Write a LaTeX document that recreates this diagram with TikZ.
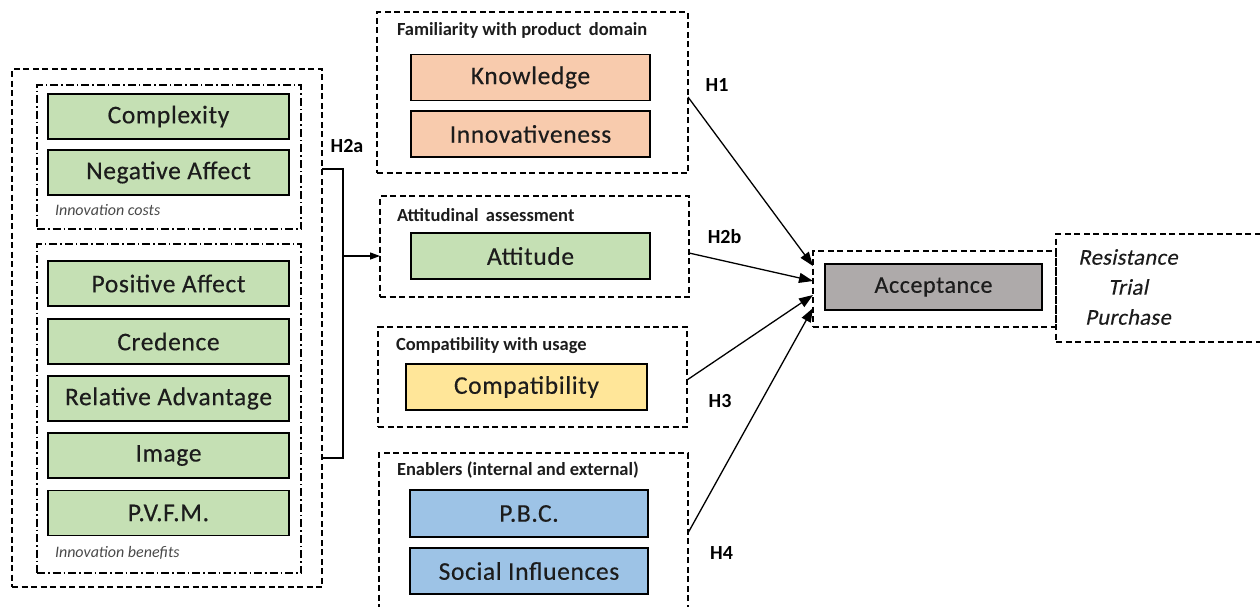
\documentclass[tikz,border=0pt]{standalone}
\usepackage{fontspec}
\setmainfont{Carlito}
\newfontfamily\itemfont{Carlito}[LetterSpace=2.5,FakeBold=0.35]
\newfontfamily\itemitfont{Carlito}[LetterSpace=1.5,FakeBold=0.25,FakeSlant=0.2]
\usetikzlibrary{arrows.meta,calc}

\definecolor{cgreen}{HTML}{C5E0B4}
\definecolor{corange}{HTML}{F8CBAD}
\definecolor{cyellow}{HTML}{FFE699}
\definecolor{cblue}{HTML}{9DC3E6}
\definecolor{cgrey}{HTML}{AEAAAA}
\definecolor{ink}{HTML}{1C1C1C}

\begin{document}
\begin{tikzpicture}[x=1pt,y=-1pt,
  every node/.style={inner sep=0pt, outer sep=0pt},
  item/.style={draw=black, line width=1.4pt, minimum width=241pt, minimum height=45pt,
    font=\itemfont\fontsize{25.5}{30}\selectfont, text=ink},
  grp/.style={draw=black, line width=1.1pt, dash pattern=on 6pt off 3.5pt},
  sub/.style={draw=black, line width=1.1pt, dash pattern=on 8pt off 3pt on 1.5pt off 3pt},
  title/.style={anchor=west, font=\bfseries\fontsize{18.5}{22}\selectfont, text=ink},
  note/.style={anchor=west, font=\itshape\fontsize{16}{19}\selectfont, text=ink!80},
  hyp/.style={font=\bfseries\fontsize{20}{24}\selectfont, text=black},
  link/.style={line width=1.3pt, -{Triangle[length=14pt,width=10pt]}},
  brace/.style={line width=1.3pt}
]
\useasboundingbox (0,0) rectangle (1260,606);
\clip (0,0) rectangle (1260,606);

% ---- left block: innovation costs and benefits
\node[grp, minimum width=310pt, minimum height=518pt] (left) at (167,328) {};
\node[sub, minimum width=264pt, minimum height=144pt] (costs) at (169,157) {};
\node[sub, minimum width=264pt, minimum height=329pt] (benefits) at (169,408.5) {};

\node[item, fill=cgreen] (cx) at (168.5,116.5) {Complexity};
\node[item, fill=cgreen] (na) at (168.5,172.5) {Negative Affect};
\node[note] (nc) at (55,210) {Innovation costs};

\node[item, fill=cgreen] (pa) at (168.5,283.5) {Positive Affect};
\node[item, fill=cgreen] (cr) at (168.5,341.5) {Credence};
\node[item, fill=cgreen] (ra) at (168.5,398.5) {Relative Advantage};
\node[item, fill=cgreen] (im) at (168.5,455.5) {Image};
\node[item, fill=cgreen] (pv) at (168.5,513) {P.V.F.M.};
\node[note] (nb) at (55,553) {Innovation benefits};

% ---- middle column
\node[grp, minimum width=311pt, minimum height=161pt] (fam) at (532.5,92.5) {};
\node[title] (tfam) at (397,30) {Familiarity with product\, domain};
\node[item, fill=corange, minimum width=239pt, minimum height=46pt] (kn) at (530.5,77.5) {Knowledge};
\node[item, fill=corange, minimum width=239pt, minimum height=46pt] (inn) at (530.5,134) {Innovativeness};

\node[grp, minimum width=309pt, minimum height=101pt] (attg) at (534.5,246.5) {};
\node[title] (tatt) at (397,215) {Attitudinal\, assessment};
\node[item, fill=cgreen, minimum width=239pt, minimum height=46pt] (att) at (530.5,256) {Attitude};

\node[grp, minimum width=309pt, minimum height=100pt] (compg) at (532.5,377) {};
\node[title] (tcomp) at (396,346) {Compatibility with usage};
\node[item, fill=cyellow, minimum width=241pt, minimum height=46pt] (comp) at (526.5,387) {Compatibility};

\node[grp, minimum width=309pt, minimum height=162pt] (enab) at (533.5,534) {};
\node[title] (tenab) at (397,470) {Enablers (internal and external)};
\node[item, fill=cblue, minimum width=238pt, minimum height=47pt] (pbc) at (529,513.5) {P.B.C.};
\node[item, fill=cblue, minimum width=238pt, minimum height=46pt] (si) at (529,571) {Social Influences};

% ---- outcome
\node[grp, minimum width=243pt, minimum height=76pt] (accg) at (934.5,289) {};
\node[grp, minimum width=224pt, minimum height=108pt] (resg) at (1168,288) {};
\node[item, fill=cgrey, minimum width=217pt, minimum height=46pt, font=\itemfont\fontsize{24}{28}\selectfont] (acc) at (933.5,287) {Acceptance};
\node[align=center, font=\itemitfont\fontsize{22.5}{30}\selectfont, text=ink] (res) at (1128,287) {Resistance\\Trial\\Purchase};

% ---- bracket joining the left block to the attitude box
\coordinate (bt) at (343,169);
\coordinate (bb) at (343,458);
\draw[brace] (left.east |- bt) -- (bt) -- (bb) -- (left.east |- bb);
\draw[line width=1.3pt, -{Triangle[length=10pt,width=7pt]}] (bt |- att) -- (attg.west |- att);
\node[hyp] (h2a) at (347,146) {H2a};

% ---- hypotheses towards acceptance
\draw[link] ([yshift=-4.5pt]fam.east) -- ([yshift=23pt]accg.west);
\draw[link] ([yshift=-6.5pt]attg.east) -- ([yshift=8pt]accg.west);
\draw[link] ([yshift=-3pt]compg.east) -- ([yshift=-6pt]accg.west);
\draw[link] ([yshift=1pt]enab.east) -- ([yshift=-19pt]accg.west);

\node[hyp] (h1) at (717,85) {H1};
\node[hyp] (h2b) at (724.5,237) {H2b};
\node[hyp] (h3) at (720,401) {H3};
\node[hyp] (h4) at (721.5,553) {H4};
\end{tikzpicture}
\end{document}
